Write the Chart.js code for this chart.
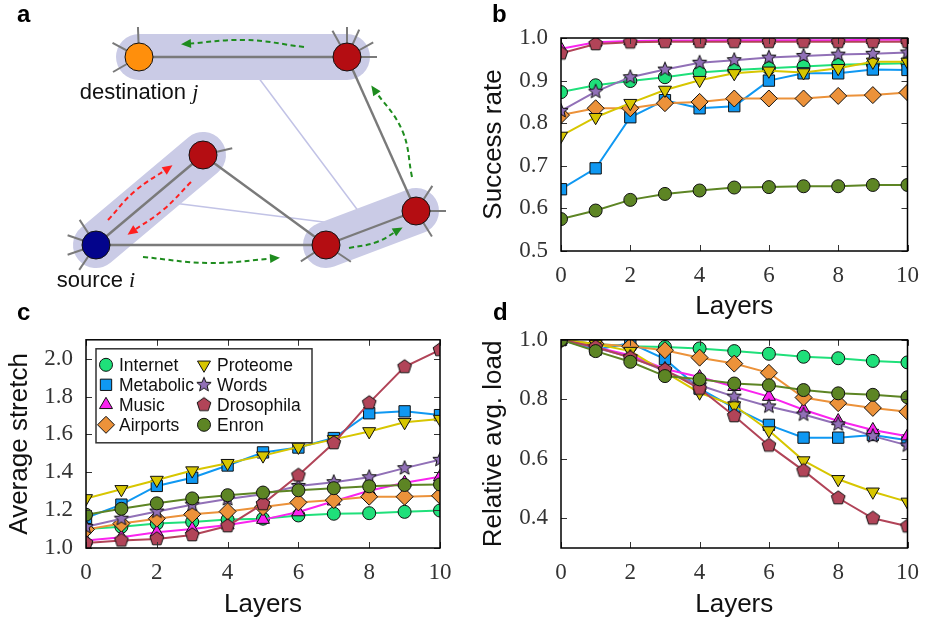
<!DOCTYPE html>
<html>
<head>
<meta charset="utf-8">
<script src="https://cdn.jsdelivr.net/npm/chart.js@4.4.0/dist/chart.umd.min.js"></script>
<style>
  body { margin: 0; background: #fff; }
  #fig { position: relative; width: 930px; height: 626px; overflow: hidden; font-family: "Liberation Sans", Arial, sans-serif; }
  #fig canvas { position: absolute; }
  .letter { position: absolute; font-weight: bold; font-size: 24px; line-height: 24px; color: #000; }
</style>
</head>
<body>
<div id="fig">
  <canvas id="chartA" width="470" height="310" style="left:0;top:0"></canvas>
  <canvas id="chartB" width="460" height="322" style="left:470px;top:0"></canvas>
  <canvas id="chartC" width="470" height="307" style="left:0;top:313px"></canvas>
  <canvas id="chartD" width="460" height="307" style="left:470px;top:313px"></canvas>
  <div class="letter" style="left:17px;top:2px">a</div>
  <div class="letter" style="left:492px;top:2px">b</div>
  <div class="letter" style="left:17px;top:300px">c</div>
  <div class="letter" style="left:493px;top:300px">d</div>
</div>
<script>
// ---------- panels b-d data ----------
const layers = [0, 1, 2, 3, 4, 5, 6, 7, 8, 9, 10];
const seriesNames = ['Internet', 'Metabolic', 'Music', 'Airports', 'Proteome', 'Words', 'Drosophila', 'Enron'];

const successRate = [
  [0.873, 0.889, 0.899, 0.908, 0.919, 0.925, 0.929, 0.933, 0.937, 0.939, 0.941], // Internet
  [0.645, 0.694, 0.814, 0.854, 0.835, 0.840, 0.900, 0.917, 0.917, 0.926, 0.925], // Metabolic
  [0.975, 0.990, 0.993, 0.994, 0.994, 0.995, 0.995, 0.995, 0.995, 0.996, 0.996], // Music
  [0.819, 0.835, 0.835, 0.847, 0.850, 0.858, 0.858, 0.858, 0.864, 0.866, 0.872], // Airports
  [0.770, 0.814, 0.847, 0.878, 0.901, 0.917, 0.923, 0.919, 0.929, 0.944, 0.944], // Proteome
  [0.829, 0.874, 0.908, 0.926, 0.942, 0.948, 0.954, 0.958, 0.961, 0.963, 0.966], // Words
  [0.964, 0.986, 0.990, 0.991, 0.991, 0.991, 0.991, 0.991, 0.991, 0.991, 0.991], // Drosophila
  [0.575, 0.595, 0.620, 0.634, 0.642, 0.649, 0.650, 0.652, 0.652, 0.655, 0.655]  // Enron
];

const avgStretch = [
  [1.100, 1.112, 1.129, 1.138, 1.150, 1.155, 1.172, 1.181, 1.184, 1.191, 1.198],
  [1.159, 1.229, 1.328, 1.371, 1.436, 1.505, 1.531, 1.581, 1.712, 1.722, 1.702],
  [1.040, 1.057, 1.083, 1.100, 1.121, 1.150, 1.190, 1.247, 1.302, 1.345, 1.376],
  [1.098, 1.129, 1.155, 1.178, 1.193, 1.216, 1.241, 1.253, 1.271, 1.271, 1.276],
  [1.262, 1.310, 1.359, 1.409, 1.448, 1.488, 1.534, 1.574, 1.616, 1.664, 1.681],
  [1.112, 1.155, 1.193, 1.229, 1.259, 1.284, 1.328, 1.348, 1.374, 1.422, 1.466],
  [1.026, 1.040, 1.048, 1.069, 1.116, 1.233, 1.384, 1.555, 1.767, 1.957, 2.047],
  [1.176, 1.207, 1.236, 1.262, 1.279, 1.293, 1.305, 1.316, 1.326, 1.333, 1.336]
];

const relLoad = [
  [1.000, 0.986, 0.978, 0.976, 0.971, 0.962, 0.953, 0.943, 0.938, 0.929, 0.924],
  [1.000, 0.967, 0.989, 0.935, 0.836, 0.771, 0.714, 0.671, 0.671, 0.680, 0.662],
  [1.000, 0.975, 0.948, 0.902, 0.875, 0.842, 0.809, 0.765, 0.727, 0.697, 0.676],
  [1.000, 0.986, 0.978, 0.965, 0.940, 0.920, 0.889, 0.806, 0.787, 0.771, 0.758],
  [1.000, 0.986, 0.962, 0.891, 0.822, 0.779, 0.695, 0.594, 0.531, 0.489, 0.455],
  [1.000, 0.973, 0.942, 0.896, 0.847, 0.809, 0.776, 0.749, 0.716, 0.676, 0.645],
  [1.000, 0.976, 0.940, 0.899, 0.836, 0.744, 0.645, 0.560, 0.468, 0.400, 0.373],
  [1.000, 0.962, 0.926, 0.878, 0.867, 0.853, 0.847, 0.831, 0.820, 0.815, 0.807]
];

const xTicks = [0, 2, 4, 6, 8, 10];
const successTicks = [0.5, 0.6, 0.7, 0.8, 0.9, 1.0];
const stretchTicks = [1.0, 1.2, 1.4, 1.6, 1.8, 2.0];
const loadTicks = [0.4, 0.6, 0.8, 1.0];

// ---------- panel a data (layout units) ----------
const nodeX = [13.9, 34.7, 20.3, 9.6, 32.6, 41.6];
const nodeY = [25.3, 25.3, 15.5, 6.5, 6.5, 9.9];
const nodeKinds = ['dest', 'relay', 'relay', 'source', 'relay', 'relay'];
const edges = [[0, 1], [1, 5], [5, 4], [4, 3], [3, 2], [2, 4]];
const groups = [[0, 1], [3, 2], [4, 5]];
const groupLinks = [[0, 2], [1, 2]];
const stubAngles = [[92, 152, 210], [119, 90, 66, 29, 0], [13], [123, 161, 199, 236], [213, 326], [57, 0, 302]];
const greenPaths = [
  [[14.3, 5.3], [21.0, 4.7], [27.7, 5.2]],
  [[34.9, 6.2], [37.7, 6.8], [40.0, 8.1]],
  [[41.2, 13.3], [40.2, 18.0], [37.3, 22.2]],
  [[30.4, 26.3], [24.5, 27.0], [18.4, 26.6]]
];
const redPaths = [
  [[10.8, 9.0], [13.5, 11.9], [17.0, 14.3]],
  [[19.1, 12.8], [16.3, 10.0], [13.0, 7.7]]
];
const nodeLabels = [[0, 'destination', 'j'], [3, 'source', 'i']];

// ---------- styles ----------
const seriesColors = ['#1fe07a', '#0f98f2', '#fa24ef', '#ec923a', '#d7c600', '#9170b7', '#b14458', '#5d8524'];
const kindColors = { dest: '#ff8f0c', relay: '#b40d12', source: '#03048c' };

function polyMarker(n, outer, inner, color) {
  const size = Math.ceil(outer * 2 + 3);
  const c = document.createElement('canvas');
  c.width = c.height = size;
  const g = c.getContext('2d');
  g.translate(size / 2, size / 2);
  const k = inner ? n * 2 : n;
  g.beginPath();
  for (let j = 0; j < k; j++) {
    const r = inner && j % 2 ? inner : outer;
    const ang = -Math.PI / 2 + j * 2 * Math.PI / k;
    g.lineTo(r * Math.cos(ang), r * Math.sin(ang));
  }
  g.closePath();
  g.fillStyle = color;
  g.fill();
  g.lineWidth = 1;
  g.strokeStyle = '#111';
  g.stroke();
  return c;
}

const markerStyles = ['circle', 'rect', 'triangle', 'rectRot', 'triangle',
  polyMarker(5, 7.5, 3.3, seriesColors[5]), polyMarker(5, 7.2, 0, seriesColors[6]), 'circle'];
const markerRadius = [6.5, 8, 7.5, 8.5, 7.5, 7, 7, 6.5];
const markerRotation = [0, 0, 0, 0, 180, 0, 0, 0];

function lineSets(values) {
  return seriesNames.map((name, i) => ({
    label: name,
    data: layers.map((x, k) => ({ x: x, y: values[i][k] })),
    borderColor: seriesColors[i],
    backgroundColor: seriesColors[i],
    borderWidth: 2,
    pointStyle: markerStyles[i],
    pointRadius: markerRadius[i],
    pointRotation: markerRotation[i],
    pointBorderColor: '#111',
    pointBorderWidth: 1,
    order: seriesNames.length - i
  }));
}

// inward tick marks on all four sides + frame
const framePlugin = {
  id: 'frame',
  afterDatasetsDraw(chart) {
    const { ctx, chartArea: a, scales } = chart;
    ctx.save();
    ctx.strokeStyle = '#333';
    ctx.lineWidth = 1;
    ctx.beginPath();
    scales.x.ticks.forEach(t => {
      const p = Math.round(scales.x.getPixelForValue(t.value)) + 0.5;
      ctx.moveTo(p, a.bottom); ctx.lineTo(p, a.bottom - 6);
      ctx.moveTo(p, a.top); ctx.lineTo(p, a.top + 6);
    });
    scales.y.ticks.forEach(t => {
      const p = Math.round(scales.y.getPixelForValue(t.value)) + 0.5;
      ctx.moveTo(a.left, p); ctx.lineTo(a.left + 6, p);
      ctx.moveTo(a.right, p); ctx.lineTo(a.right - 6, p);
    });
    ctx.stroke();
    ctx.strokeStyle = '#000';
    ctx.lineWidth = 1.5;
    ctx.strokeRect(a.left, a.top, a.right - a.left, a.bottom - a.top);
    ctx.restore();
  }
};

const legendBox = {
  id: 'legendBox',
  afterDatasetsDraw(chart) {
    const { ctx, chartArea: a } = chart;
    const left = a.left + 10, top = a.top + 9;
    ctx.save();
    ctx.fillStyle = '#fff';
    ctx.fillRect(left, top, 216, 94);
    ctx.strokeStyle = '#333';
    ctx.lineWidth = 1.5;
    ctx.strokeRect(left, top, 216, 94);
    ctx.font = '17.5px "Liberation Sans"';
    ctx.textBaseline = 'middle';
    chart.data.datasets.forEach((ds, i) => {
      const mx = left + 10 + Math.floor(i / 4) * 98;
      const my = top + 16 + (i % 4) * 20;
      ctx.fillStyle = ds.backgroundColor;
      ctx.strokeStyle = '#111';
      ctx.lineWidth = 1;
      Chart.helpers.drawPoint(ctx, { pointStyle: ds.pointStyle, radius: ds.pointRadius, rotation: ds.pointRotation, borderWidth: 1 }, mx, my);
      ctx.fillStyle = '#111';
      ctx.fillText(ds.label, mx + 13, my + 1);
    });
    ctx.restore();
  }
};

function panelOptions(yTitle, yMin, yMax, yTicks, pad, yWidth, titlePad) {
  return {
    responsive: false,
    animation: false,
    events: [],
    layout: { padding: pad, autoPadding: false },
    plugins: { legend: { display: false }, tooltip: { enabled: false } },
    scales: {
      x: {
        type: 'linear', min: 0, max: 10,
        afterBuildTicks: s => { s.ticks = xTicks.map(v => ({ value: v })); },
        afterFit: s => { s.height = pad.xHeight; },
        grid: { display: false, drawTicks: false },
        border: { display: false },
        ticks: { padding: 11, color: '#333', maxRotation: 0, autoSkip: false, font: { family: 'Liberation Serif', size: 23 } },
        title: { display: true, text: 'Layers', color: '#111', padding: 0, font: { family: 'Liberation Sans', size: 26 } }
      },
      y: {
        min: yMin, max: yMax,
        afterBuildTicks: s => { s.ticks = yTicks.map(v => ({ value: v })); },
        afterFit: s => { s.width = yWidth; },
        grid: { display: false, drawTicks: false },
        border: { display: false },
        ticks: { padding: 13, color: '#333', callback: v => v.toFixed(1), font: { family: 'Liberation Serif', size: 23 } },
        title: { display: true, text: yTitle, color: '#111', padding: { top: titlePad, bottom: 0 }, font: { family: 'Liberation Sans', size: 26 } }
      }
    }
  };
}

new Chart(document.getElementById('chartB'), {
  type: 'line',
  data: { datasets: lineSets(successRate) },
  options: panelOptions('Success rate', 0.5, 1.0, successTicks, { top: 38, right: 15, bottom: 0, left: 0, xHeight: 71 }, 91, 8),
  plugins: [framePlugin]
});

new Chart(document.getElementById('chartC'), {
  type: 'line',
  data: { datasets: lineSets(avgStretch) },
  options: panelOptions('Average stretch', 1.0, 2.1, stretchTicks, { top: 22, right: 30, bottom: 0, left: 0, xHeight: 72 }, 86, 4),
  plugins: [framePlugin, legendBox]
});

new Chart(document.getElementById('chartD'), {
  type: 'line',
  data: { datasets: lineSets(relLoad) },
  options: panelOptions('Relative avg. load', 0.3, 1.0, loadTicks, { top: 22, right: 15, bottom: 0, left: 0, xHeight: 72 }, 91, 8),
  plugins: [framePlugin]
});

// ---------- panel a: network sketch ----------
const pt = n => ({ x: nodeX[n], y: nodeY[n] });
const mid = g => ({ x: (nodeX[groups[g][0]] + nodeX[groups[g][1]]) / 2, y: (nodeY[groups[g][0]] + nodeY[groups[g][1]]) / 2 });
function seg(data, style) {
  return Object.assign({ data: data, showLine: true, pointRadius: 0, fill: false, clip: false }, style);
}

const aSets = [];
groupLinks.forEach(([g1, g2]) => aSets.push(seg([mid(g1), mid(g2)], { borderColor: '#c2c3e6', borderWidth: 1.5, order: 6 })));
groups.forEach(([n1, n2]) => aSets.push(seg([pt(n1), pt(n2)], { borderColor: '#cacbe6', borderWidth: 46, borderCapStyle: 'round', order: 5 })));
edges.forEach(([n1, n2]) => aSets.push(seg([pt(n1), pt(n2)], { borderColor: '#7a7a7a', borderWidth: 2.4, order: 4 })));
stubAngles.forEach((angles, n) => angles.forEach(deg => {
  const r = deg * Math.PI / 180;
  aSets.push(seg([pt(n), { x: nodeX[n] + 3 * Math.cos(r), y: nodeY[n] + 3 * Math.sin(r) }], { borderColor: '#7a7a7a', borderWidth: 2, order: 3 }));
}));
greenPaths.forEach(p => aSets.push(seg(p.map(([x, y]) => ({ x, y })), { borderColor: '#1e8c1e', borderWidth: 2, borderDash: [5, 3.5], tension: 0.4, arrowHead: true, order: 2 })));
redPaths.forEach(p => aSets.push(seg(p.map(([x, y]) => ({ x, y })), { borderColor: '#ff1f1f', borderWidth: 2, borderDash: [5, 3.5], tension: 0.4, arrowHead: true, order: 2 })));
aSets.push({
  data: nodeX.map((x, n) => pt(n)),
  pointRadius: 14,
  pointBackgroundColor: nodeKinds.map(k => kindColors[k]),
  pointBorderColor: '#111',
  pointBorderWidth: 1,
  clip: false,
  order: 1
});

const diagramPlugin = {
  id: 'diagram',
  afterDatasetsDraw(chart) {
    const { ctx, scales } = chart;
    ctx.save();
    chart.data.datasets.forEach((ds, i) => {
      if (!ds.arrowHead) return;
      const pts = chart.getDatasetMeta(i).data;
      const tip = pts[pts.length - 1], prev = pts[pts.length - 2];
      const ang = Math.atan2(tip.y - prev.y, tip.x - prev.x);
      ctx.save();
      ctx.translate(tip.x, tip.y);
      ctx.rotate(ang);
      ctx.beginPath();
      ctx.moveTo(3, 0);
      ctx.lineTo(-7, -4.5);
      ctx.lineTo(-7, 4.5);
      ctx.closePath();
      ctx.fillStyle = ds.borderColor;
      ctx.fill();
      ctx.restore();
    });
    ctx.fillStyle = '#111';
    ctx.textBaseline = 'alphabetic';
    nodeLabels.forEach(([n, word, sym]) => {
      const cx = scales.x.getPixelForValue(nodeX[n]);
      const by = scales.y.getPixelForValue(nodeY[n]) + 41.5;
      ctx.font = '22px "Liberation Sans"';
      const w1 = ctx.measureText(word + ' ').width;
      ctx.font = 'italic 22px "Liberation Serif"';
      const w2 = ctx.measureText(sym).width;
      const left = cx - (w1 + w2) / 2;
      ctx.font = '22px "Liberation Sans"';
      ctx.fillText(word, left, by);
      ctx.font = 'italic 22px "Liberation Serif"';
      ctx.fillText(sym, left + w1, by);
    });
    ctx.restore();
  }
};

new Chart(document.getElementById('chartA'), {
  type: 'scatter',
  data: { datasets: aSets },
  options: {
    responsive: false,
    animation: false,
    events: [],
    layout: { padding: 0, autoPadding: false },
    plugins: { legend: { display: false }, tooltip: { enabled: false } },
    scales: {
      x: { type: 'linear', min: 0, max: 47, display: false },
      y: { type: 'linear', min: 0, max: 31, display: false }
    }
  },
  plugins: [diagramPlugin]
});
</script>
</body>
</html>
